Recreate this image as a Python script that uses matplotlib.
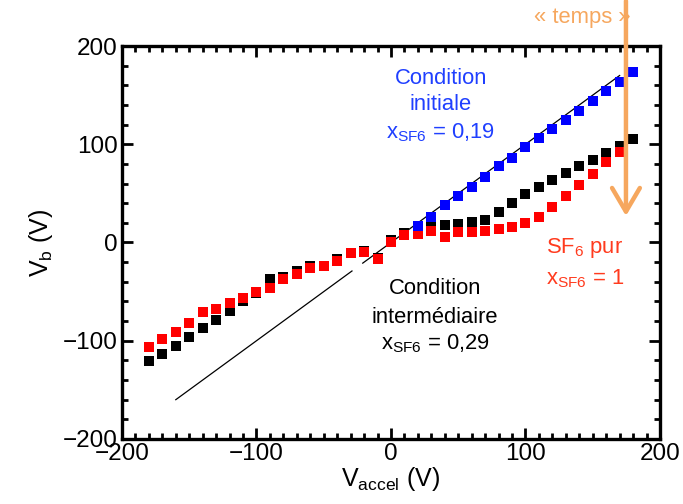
import matplotlib
matplotlib.use("Agg")
import matplotlib.pyplot as plt
from matplotlib.ticker import MultipleLocator

plt.rcParams['font.family'] = ['Liberation Sans', 'DejaVu Sans']
plt.rcParams['mathtext.fontset'] = 'custom'
plt.rcParams['mathtext.rm'] = 'Liberation Sans'
plt.rcParams['mathtext.it'] = 'Liberation Sans'
plt.rcParams['mathtext.default'] = 'regular'

# V_accel grid, one point every 10 V
v_neg = [-180, -170, -160, -150, -140, -130, -120, -110, -100, -90,
         -80, -70, -60, -50, -40, -30, -20, -10]
v_pos = [0, 10, 20, 30, 40, 50, 60, 70, 80, 90, 100, 110, 120, 130, 140,
         150, 160, 170, 180]

# black: condition intermediaire
black_neg = [-121, -114, -105, -96, -87.5, -78.7, -70, -60, -51, -37,
             -35.3, -29.2, -24.4, -24, -17.3, -11, -9, -16]
black_pos = [2.7, 9.8, 14, 17.3, 18, 18.6, 21, 23.1, 30.9, 40, 49.5, 57,
             63.8, 70.6, 77.7, 84.2, 91.6, 98.7, 105]

# red: SF6 pur
red_neg = [-106.5, -98.4, -90.6, -82.4, -70.9, -67.9, -61.4, -57, -50.5,
           -46.1, -37.3, -31.9, -26.1, -24.4, -19, -10.9, -9.2, -16.3]
red_pos = [0.3, 8.1, 8.5, 11.2, 5.4, 10.9, 10.2, 12.2, 13.9, 15.6, 19.7,
           25.8, 35.9, 47.1, 59, 69.9, 81.7, 92.6]

# blue: condition initiale
v_blue = [20, 30, 40, 50, 60, 70, 80, 90, 100, 110, 120, 130, 140, 150,
          160, 170, 180]
blue = [17, 25.8, 37.7, 47.8, 56.3, 66.5, 77.4, 85.8, 97, 106.2, 115.7,
        124.9, 133.7, 144.5, 154, 163.5, 173.3]

# reference line y = x (drawn in two pieces)
ref_x1 = [-160, -29]
ref_x2 = [-21, 170]

orange = '#F6A75E'

fig = plt.figure(figsize=(6.83, 5.04), dpi=100)
ax = fig.add_axes([0.1786, 0.129, 0.9663 - 0.1786, 0.9087 - 0.129])

ax.plot(ref_x1, ref_x1, color='black', lw=0.9)
ax.plot(ref_x2, ref_x2, color='black', lw=0.9)

ms = 6.5
ax.plot(v_neg + v_pos, black_neg + black_pos, 's', color='black', ms=ms, mew=0)
ax.plot(v_neg + v_pos[:len(red_pos)], red_neg + red_pos, 's', color='#FF0000', ms=ms, mew=0)
ax.plot(v_blue, blue, 's', color='#0000FF', ms=ms, mew=0)

ax.set_xlim(-200, 200)
ax.set_ylim(-200, 200)
ax.xaxis.set_major_locator(MultipleLocator(100))
ax.xaxis.set_minor_locator(MultipleLocator(10))
ax.yaxis.set_major_locator(MultipleLocator(100))
ax.yaxis.set_minor_locator(MultipleLocator(20))
ax.tick_params(which='both', direction='in', top=True, right=True, width=2)
ax.tick_params(which='major', length=8, labelsize=17.5, pad=3)
ax.tick_params(which='minor', length=4)
for s in ax.spines.values():
    s.set_linewidth(2.4)

ax.set_xlabel('V$_{accel}$ (V)', fontsize=18, labelpad=0)
ax.set_ylabel('V$_b$ (V)', fontsize=18, labelpad=6)

fs = 15.8
blue_t = '#1F3FFF'
ax.text(37, 167, 'Condition', color=blue_t, fontsize=fs, ha='center', va='center')
ax.text(37, 140.5, 'initiale', color=blue_t, fontsize=fs, ha='center', va='center')
ax.text(37, 112, 'x$_{SF6}$ = 0,19', color=blue_t, fontsize=fs, ha='center', va='center')

ax.text(32.7, -46.8, 'Condition', color='black', fontsize=fs, ha='center', va='center')
ax.text(32.7, -76.3, 'intermédiaire', color='black', fontsize=fs, ha='center', va='center')
ax.text(32.7, -102.8, 'x$_{SF6}$ = 0,29', color='black', fontsize=fs, ha='center', va='center')

red_t = '#FF3B1E'
ax.text(144, -6, 'SF$_6$ pur', color=red_t, fontsize=fs, ha='center', va='center')
ax.text(144, -36.6, 'x$_{SF6}$ = 1', color=red_t, fontsize=fs, ha='center', va='center')

# time arrow
ax.annotate('', xy=(174.7, 27), xytext=(174.7, 246), annotation_clip=False,
            arrowprops=dict(arrowstyle='->,head_length=0.85,head_width=0.5',
                            lw=3.2, color=orange, shrinkA=0, shrinkB=0,
                            mutation_scale=20))
ax.text(142, 229, '« temps »', color=orange, fontsize=fs, ha='center',
        va='center', clip_on=False)

fig.savefig('out.png', dpi=100)
